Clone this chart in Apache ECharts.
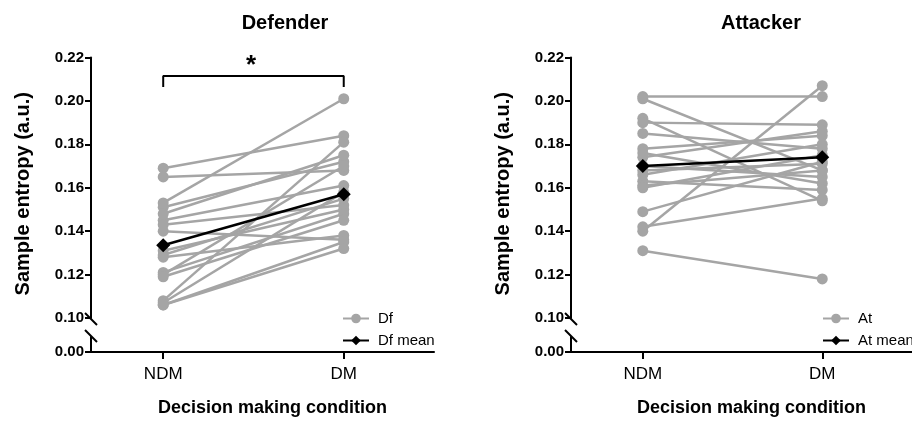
<!DOCTYPE html>
<html>
<head>
<meta charset="utf-8">
<script src="https://cdn.jsdelivr.net/npm/echarts@6/dist/echarts.min.js"></script>
<style>
    html, body { margin: 0; padding: 0; background: #fff; }
    #chart { width: 912px; height: 421px; }
</style>
</head>
<body>
<div id="chart"></div>
<script>
// conditions and their x positions on the value axis
const conditions = ['NDM', 'DM'];
const conditionX = [0.4, 1.4];
const yTicks = [0.10, 0.12, 0.14, 0.16, 0.18, 0.20, 0.22];

// defender, one value per subject
const dfNDM = [0.169, 0.165, 0.153, 0.151, 0.148, 0.145, 0.143, 0.140, 0.131, 0.129, 0.128, 0.121, 0.120, 0.119, 0.108, 0.107, 0.106, 0.106];
const dfDM  = [0.184, 0.168, 0.201, 0.172, 0.175, 0.161, 0.152, 0.136, 0.150, 0.155, 0.138, 0.148, 0.170, 0.145, 0.181, 0.158, 0.135, 0.132];
const dfMean = [0.1335, 0.157];

// attacker
const atNDM = [0.202, 0.201, 0.192, 0.190, 0.185, 0.178, 0.176, 0.174, 0.170, 0.168, 0.166, 0.163, 0.161, 0.160, 0.149, 0.142, 0.140, 0.131];
const atDM  = [0.202, 0.168, 0.154, 0.189, 0.178, 0.184, 0.162, 0.186, 0.165, 0.171, 0.180, 0.159, 0.168, 0.175, 0.172, 0.155, 0.207, 0.118];
const atMean = [0.170, 0.174];

const FONT = 'Liberation Sans, Arial, Helvetica, sans-serif';
const GRAY = '#a5a5a5';

let chart = echarts.init(document.getElementById('chart'));

let panels = [
    {left: 91, title: 'Defender', titleX: 280, name: 'Df', pre: dfNDM, post: dfDM, mean: dfMean, star: true},
    {left: 571, title: 'Attacker', titleX: 756, name: 'At', pre: atNDM, post: atDM, mean: atMean, star: false}
];

let grids = [];
let xAxes = [];
let yAxes = [];
let series = [];
let legends = [];
let titles = [];
let graphics = [];

panels.forEach((p, i) => {
    // upper part 0.10 - 0.22, lower part only 0.00
    grids.push({left: p.left, top: 57.5, width: 343, height: 260.5});
    grids.push({left: p.left, top: 337, width: 343, height: 15});

    xAxes.push({
        gridIndex: i * 2, type: 'value', min: 0, max: 1.9, show: false
    });
    xAxes.push({
        gridIndex: i * 2 + 1, type: 'value', min: 0, max: 1.9,
        axisLine: {lineStyle: {color: '#000', width: 2}},
        axisTick: {customValues: conditionX, length: 7, lineStyle: {color: '#000', width: 2}},
        axisLabel: {
            customValues: conditionX, margin: 14, color: '#000', fontSize: 17, fontFamily: FONT,
            formatter: v => conditions[conditionX.indexOf(v)] || ''
        },
        splitLine: {show: false},
        name: 'Decision making condition', nameLocation: 'middle', nameGap: 47,
        nameTextStyle: {color: '#000', fontSize: 18, fontWeight: 'bold', fontFamily: FONT, padding: [0, 0, 0, 20]}
    });

    yAxes.push({
        gridIndex: i * 2, type: 'value', min: 0.10, max: 0.22, interval: 0.02,
        axisLine: {show: true, lineStyle: {color: '#000', width: 2}},
        axisTick: {show: true, length: 6, lineStyle: {color: '#000', width: 2}},
        axisLabel: {
            margin: 7, color: '#000', fontSize: 15, fontWeight: 'bold', fontFamily: FONT,
            formatter: v => v.toFixed(2)
        },
        splitLine: {show: false},
        name: 'Sample entropy (a.u.)', nameLocation: 'middle', nameGap: 58,
        nameTextStyle: {color: '#000', fontSize: 20, fontWeight: 'bold', fontFamily: FONT, padding: [0, 12, 0, 0]}
    });
    yAxes.push({
        gridIndex: i * 2 + 1, type: 'value', min: 0, max: 0.01,
        axisLine: {show: true, lineStyle: {color: '#000', width: 2}},
        axisTick: {show: true, customValues: [0], length: 6, lineStyle: {color: '#000', width: 2}},
        axisLabel: {
            customValues: [0], margin: 7, color: '#000', fontSize: 15, fontWeight: 'bold', fontFamily: FONT,
            formatter: v => v.toFixed(2)
        },
        splitLine: {show: false}
    });

    // one line per subject
    p.pre.forEach((v, k) => {
        series.push({
            name: p.name, type: 'line', xAxisIndex: i * 2, yAxisIndex: i * 2,
            data: [[conditionX[0], v], [conditionX[1], p.post[k]]],
            symbol: 'circle', symbolSize: 11,
            itemStyle: {color: GRAY},
            lineStyle: {color: GRAY, width: 2.5},
            silent: true, animation: false, z: 2
        });
    });
    series.push({
        name: p.name + ' mean', type: 'line', xAxisIndex: i * 2, yAxisIndex: i * 2,
        data: [[conditionX[0], p.mean[0]], [conditionX[1], p.mean[1]]],
        symbol: 'diamond', symbolSize: 14,
        itemStyle: {color: '#000'},
        lineStyle: {color: '#000', width: 2.5},
        animation: false, z: 5
    });

    if (p.star) {
        // significance bracket
        series.push({
            type: 'line', xAxisIndex: i * 2, yAxisIndex: i * 2,
            data: [[0.4, 0.2064], [0.4, 0.2115], [1.4, 0.2115], [1.4, 0.2064]],
            symbol: 'none', lineStyle: {color: '#000', width: 2},
            animation: false, silent: true
        });
        graphics.push({
            type: 'text', left: 246, top: 53,
            style: {text: '*', fill: '#000', font: 'bold 26px ' + FONT}
        });
    }

    legends.push({
        data: [p.name, p.name + ' mean'],
        orient: 'vertical', left: p.left + 246, top: 306,
        itemWidth: 26, itemHeight: 12, itemGap: 7,
        textStyle: {color: '#000', fontSize: 15, fontFamily: FONT, padding: [0, 0, 0, 4]}
    });

    titles.push({
        text: p.title, left: p.titleX, top: 8, textAlign: 'center',
        textStyle: {color: '#000', fontSize: 20, fontWeight: 'bold', fontFamily: FONT}
    });

    // axis break marks
    let x0 = p.left - 6;
    graphics.push({type: 'line', shape: {x1: x0, y1: 313, x2: x0 + 12, y2: 325}, style: {stroke: '#000', lineWidth: 2}});
    graphics.push({type: 'line', shape: {x1: x0, y1: 330, x2: x0 + 12, y2: 342}, style: {stroke: '#000', lineWidth: 2}});
});

chart.setOption({
    backgroundColor: '#fff',
    animation: false,
    title: titles,
    grid: grids,
    xAxis: xAxes,
    yAxis: yAxes,
    legend: legends,
    series: series,
    graphic: graphics
});
</script>
</body>
</html>
